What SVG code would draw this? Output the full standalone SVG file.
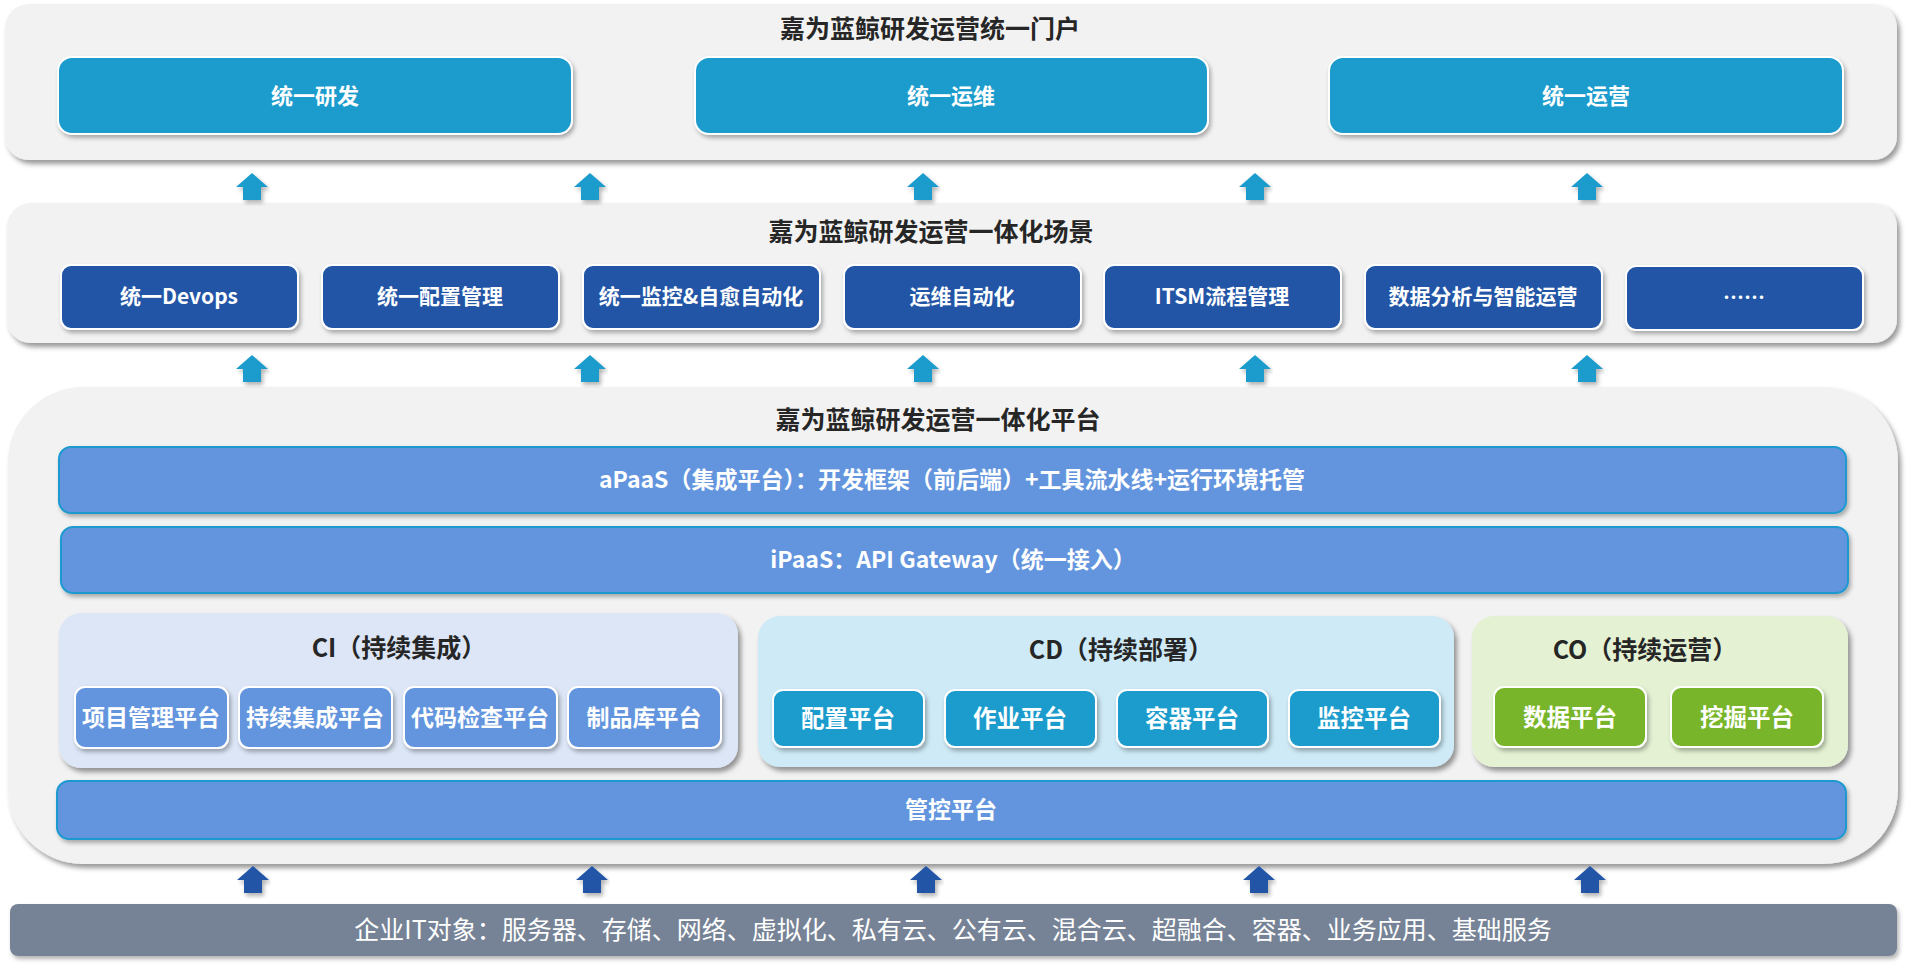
<svg xmlns="http://www.w3.org/2000/svg" xmlns:xlink="http://www.w3.org/1999/xlink" width="1911" height="973" viewBox="0 0 1911 973">
<defs>
<filter id="sh" x="-5%" y="-10%" width="110%" height="130%">
<feDropShadow dx="3" dy="4" stdDeviation="2.5" flood-color="#000" flood-opacity="0.4"/>
</filter>
<filter id="sh2" x="-5%" y="-10%" width="110%" height="130%">
<feDropShadow dx="2" dy="3" stdDeviation="2" flood-color="#000" flood-opacity="0.3"/>
</filter>
<path id="arr" d="M0,0 L16,14 L9,14 L9,27 L-9,27 L-9,14 L-16,14 Z"/>
</defs>
<style>
text{font-family:"Noto Sans CJK SC","Microsoft YaHei","Noto Sans",sans-serif;text-anchor:middle;dominant-baseline:central;}
.panel{fill:#F2F2F2;filter:url(#sh);}
.title{font-size:25px;font-weight:bold;fill:#262626;}
.top{fill:#1E9BCD;stroke:#fff;stroke-width:2;filter:url(#sh2);}
.dark{fill:#2155A6;stroke:#fff;stroke-width:2;filter:url(#sh2);}
.bar{fill:#6495DE;stroke:#1C9AD0;stroke-width:2;filter:url(#sh2);}
.ci{fill:#6495DE;stroke:#fff;stroke-width:2;filter:url(#sh2);}
.cd{fill:#1E9BCD;stroke:#fff;stroke-width:2;filter:url(#sh2);}
.co{fill:#78B52A;stroke:#fff;stroke-width:2;filter:url(#sh2);}
.wt{fill:#fff;font-weight:bold;}
.t22{font-size:22px;}
.t21{font-size:21px;}
.t23{font-size:23px;}
.t235{font-size:23.5px;}
.a1{fill:#1E9BCD;filter:url(#sh2);}
.a2{fill:#2155A6;filter:url(#sh2);}
</style>

<g id="portal">
<rect class="panel" x="5" y="4" width="1892" height="156" rx="24"/>
<text class="title" x="930" y="27">嘉为蓝鲸研发运营统一门户</text>
</g>
<g id="p-dev"><rect class="top" x="58" y="57" width="514" height="77" rx="14"/><text class="wt t22" x="315" y="94">统一研发</text></g>
<g id="p-ops"><rect class="top" x="695" y="57" width="513" height="77" rx="14"/><text class="wt t22" x="951" y="94">统一运维</text></g>
<g id="p-run"><rect class="top" x="1329" y="57" width="514" height="77" rx="14"/><text class="wt t22" x="1586" y="94">统一运营</text></g>

<g id="scene">
<rect class="panel" x="7" y="203" width="1890" height="140" rx="24"/>
<text class="title" x="931" y="230">嘉为蓝鲸研发运营一体化场景</text>
</g>
<g id="s1"><rect class="dark" x="61" y="265" width="237" height="64" rx="10"/><text class="wt t21" x="179" y="295">统一Devops</text></g>
<g id="s2"><rect class="dark" x="322" y="265" width="237" height="64" rx="10"/><text class="wt t21" x="440" y="295">统一配置管理</text></g>
<g id="s3"><rect class="dark" x="583" y="265" width="237" height="64" rx="10"/><text class="wt t21" x="701" y="295">统一监控&amp;自愈自动化</text></g>
<g id="s4"><rect class="dark" x="844" y="265" width="237" height="64" rx="10"/><text class="wt t21" x="962" y="295">运维自动化</text></g>
<g id="s5"><rect class="dark" x="1104" y="265" width="237" height="64" rx="10"/><text class="wt t21" x="1222" y="295">ITSM流程管理</text></g>
<g id="s6"><rect class="dark" x="1365" y="265" width="237" height="64" rx="10"/><text class="wt t21" x="1483" y="295">数据分析与智能运营</text></g>
<g id="s7"><rect class="dark" x="1626" y="266" width="237" height="64" rx="10"/><text class="wt t21" x="1744" y="296">……</text></g>

<g id="platform">
<rect class="panel" x="8" y="387" width="1890" height="477" rx="75"/>
<text class="title" x="938" y="418">嘉为蓝鲸研发运营一体化平台</text>
</g>
<g id="apaas"><rect class="bar" x="59" y="447" width="1787" height="66" rx="12"/><text class="wt t23" x="952" y="478">aPaaS（集成平台）：开发框架（前后端）+工具流水线+运行环境托管</text></g>
<g id="ipaas"><rect class="bar" x="61" y="527" width="1787" height="66" rx="12"/><text class="wt t23" x="953" y="558">iPaaS：API Gateway（统一接入）</text></g>

<g id="ci">
<rect fill="#DCE6F6" filter="url(#sh)" x="59" y="613" width="679" height="155" rx="22"/>
<text class="title" x="399" y="646">CI（持续集成）</text>
</g>
<g id="ci1"><rect class="ci" x="75" y="687" width="153" height="61" rx="10"/><text class="wt t23" x="151" y="716">项目管理平台</text></g>
<g id="ci2"><rect class="ci" x="239" y="687" width="153" height="61" rx="10"/><text class="wt t23" x="315" y="716">持续集成平台</text></g>
<g id="ci3"><rect class="ci" x="404" y="687" width="153" height="61" rx="10"/><text class="wt t23" x="480" y="716">代码检查平台</text></g>
<g id="ci4"><rect class="ci" x="568" y="687" width="153" height="61" rx="10"/><text class="wt t23" x="644" y="716">制品库平台</text></g>

<g id="cd">
<rect fill="#CDEAF6" filter="url(#sh)" x="758" y="616" width="696" height="151" rx="22"/>
<text class="title" x="1121" y="648">CD（持续部署）</text>
</g>
<g id="cd1"><rect class="cd" x="773" y="690" width="151" height="57" rx="10"/><text class="wt t235" x="848" y="717">配置平台</text></g>
<g id="cd2"><rect class="cd" x="945" y="690" width="151" height="57" rx="10"/><text class="wt t235" x="1020" y="717">作业平台</text></g>
<g id="cd3"><rect class="cd" x="1117" y="690" width="151" height="57" rx="10"/><text class="wt t235" x="1192" y="717">容器平台</text></g>
<g id="cd4"><rect class="cd" x="1289" y="690" width="151" height="57" rx="10"/><text class="wt t235" x="1364" y="717">监控平台</text></g>

<g id="co">
<rect fill="#E4F2D3" filter="url(#sh)" x="1472" y="616" width="376" height="151" rx="22"/>
<text class="title" x="1645" y="648">CO（持续运营）</text>
</g>
<g id="co1"><rect class="co" x="1494" y="687" width="152" height="60" rx="10"/><text class="wt t235" x="1570" y="716">数据平台</text></g>
<g id="co2"><rect class="co" x="1671" y="687" width="152" height="60" rx="10"/><text class="wt t235" x="1747" y="716">挖掘平台</text></g>

<g id="mgmt"><rect class="bar" x="57" y="781" width="1789" height="58" rx="12"/><text class="wt t23" x="951" y="808">管控平台</text></g>

<g id="itobj">
<rect fill="#768396" filter="url(#sh2)" x="10" y="904" width="1887" height="52" rx="8"/>
<text x="953" y="928" style="font-size:25px;fill:#fff;">企业IT对象：服务器、存储、网络、虚拟化、私有云、公有云、混合云、超融合、容器、业务应用、基础服务</text>
</g>

<g id="connectors">
<use href="#arr" class="a1" x="252" y="173"/>
<use href="#arr" class="a1" x="590" y="173"/>
<use href="#arr" class="a1" x="923" y="173"/>
<use href="#arr" class="a1" x="1255" y="173"/>
<use href="#arr" class="a1" x="1587" y="173"/>
<use href="#arr" class="a1" x="252" y="355"/>
<use href="#arr" class="a1" x="590" y="355"/>
<use href="#arr" class="a1" x="923" y="355"/>
<use href="#arr" class="a1" x="1255" y="355"/>
<use href="#arr" class="a1" x="1587" y="355"/>
<use href="#arr" class="a2" x="253" y="866"/>
<use href="#arr" class="a2" x="592" y="866"/>
<use href="#arr" class="a2" x="926" y="866"/>
<use href="#arr" class="a2" x="1259" y="866"/>
<use href="#arr" class="a2" x="1590" y="866"/>
</g>
</svg>
